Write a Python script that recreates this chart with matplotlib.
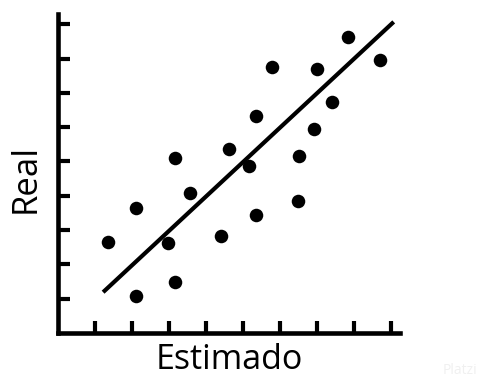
import matplotlib
matplotlib.use("Agg")
import matplotlib.pyplot as plt

# ── data ────────────────────────────────────────────────────────────────
estimado = [1.35, 2.11, 2.11, 2.97, 3.16, 3.16, 3.57, 4.41, 4.62, 5.16,
            5.35, 5.35, 5.78, 6.51, 6.49, 6.92, 7.00, 7.41, 7.84, 8.70]
real     = [2.65, 3.63, 1.08, 2.62, 5.09, 1.48, 4.07, 2.82, 5.35, 4.88,
            6.34, 3.43, 7.76, 5.15, 3.84, 5.96, 7.70, 6.74, 8.63, 7.97]
fit_x = [1.22, 9.08]
fit_y = [1.19, 9.07]
x_ticks = [1, 2, 3, 4, 5, 6, 7, 8, 9]
y_ticks = [1, 2, 3, 4, 5, 6, 7, 8, 9]

INK = "#000000"

fig = plt.figure(figsize=(4.97, 3.78), dpi=100)
fig.patch.set_facecolor("white")
ax = fig.add_axes([58 / 497, (378 - 333) / 378, (400 - 58) / 497, (333 - 14) / 378])

ax.scatter(estimado, real, s=95, color=INK, zorder=3, linewidths=0)
ax.plot(fit_x, fit_y, color=INK, linewidth=3.0, solid_capstyle="butt", zorder=2)

ax.set_xlim(0, 9.25)
ax.set_ylim(0, 9.3)
ax.set_xticks(x_ticks)
ax.set_yticks(y_ticks)
ax.set_xticklabels([])
ax.set_yticklabels([])
ax.tick_params(direction="in", length=8.5, width=3.0, color=INK)

for s in ("top", "right"):
    ax.spines[s].set_visible(False)
for s in ("left", "bottom"):
    ax.spines[s].set_linewidth(3.3)
    ax.spines[s].set_color(INK)
    ax.spines[s].set_capstyle("projecting")

fig.text(229 / 497, 1 - 360 / 378, "Estimado", ha="center", va="center",
         fontsize=24.5, family="Open Sans", color=INK)
fig.text(26 / 497, 1 - 178 / 378, "Real", ha="center", va="center",
         rotation=90, fontsize=25, family="Open Sans", color=INK)
fig.text(460 / 497, 1 - 370 / 378, "Platzi", ha="center", va="center",
         fontsize=10, family="Open Sans", color="#f0f0f0")

fig.savefig("out.png", dpi=100, facecolor="white")
